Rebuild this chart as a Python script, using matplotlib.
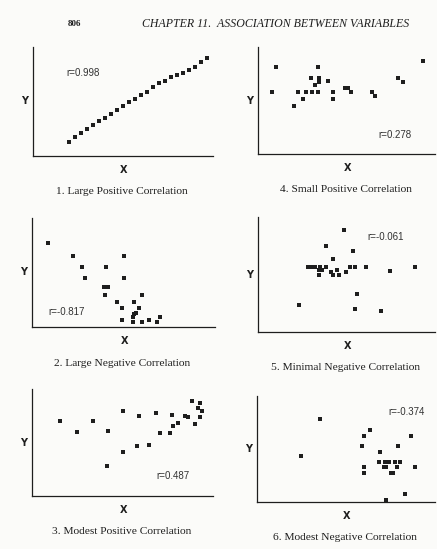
import matplotlib.pyplot as plt

W, H = 437, 549

# values (units: px from the axes corner)
x1 = [35.7, 42, 48, 54.3, 60.3, 66.3, 72.3, 78.3, 84.3, 90.3, 96.3, 102.3,
      108.3, 114.3, 120.3, 126.3, 132.3, 138.3, 144.3, 150.3, 156.3, 162.3, 168.3, 174.3]
y1 = [13.7, 19.3, 23.3, 26.7, 30.7, 35.3, 38.3, 41.7, 46, 50, 54.3, 56.7,
      60.7, 64.3, 68.7, 72.7, 75.3, 78.7, 81, 83.3, 86, 89.3, 93.7, 97.7]

x2 = [16, 40.7, 50, 53, 74.4, 92.4, 92.4, 72.4, 76, 73, 84.7, 90.4,
      89.7, 101.7, 110, 106.7, 104.4, 101.7, 101, 101, 110.4, 116.7, 125.4, 127.7]
y2 = [83.7, 71.3, 60, 49.3, 60, 71, 49.3, 40, 40, 32, 25, 18.7,
      7.3, 25, 32, 18.7, 13.7, 13.3, 10, 5.3, 5.3, 7.3, 5.3, 9.7]

x3 = [28.3, 44.7, 61, 76, 74.7, 91, 91, 105.3, 107, 117.3, 123.7, 128.3,
      138.3, 140.3, 140.7, 146, 153.3, 155.7, 159.7, 163.3, 165.7, 168.3, 168, 169.7]
y3 = [75, 64, 74.7, 65, 30, 85, 44, 49.7, 80, 51.4, 82.7, 62.7,
      62.7, 81.4, 70, 73, 80.4, 79.4, 95, 72.4, 88, 93.4, 79, 84.7]

x4 = [18.3, 14, 36.3, 40.3, 45.3, 48, 53, 54.3, 56.7, 60, 60.3, 60.7,
      60.7, 70.3, 75, 75, 86.7, 90, 93.3, 113.7, 117, 140.3, 145, 165]
y4 = [87.3, 62.3, 48, 62.3, 55, 62.3, 76.3, 62.3, 69, 62.3, 87, 76.3,
      72.3, 72.7, 62, 54.7, 65.7, 65.7, 61.7, 62, 58, 75.7, 72.3, 93]

x5 = [86, 68.3, 95, 74.7, 50, 54.3, 56.7, 61.7, 68.3, 61.3, 64.3, 72.7, 79.3,
      61.3, 74.7, 81.3, 88, 92.3, 97, 108, 132.3, 157, 99, 41.3, 96.7, 123]
y5 = [101.7, 86.3, 81, 73.3, 65, 65, 65, 65, 65, 61.7, 61.7, 60, 61.7,
      57, 57, 57, 60, 65, 65, 65, 61, 64.7, 38, 27.3, 23.3, 21.3]

x6 = [62.7, 44.3, 112.7, 107.3, 105.3, 154, 141.3, 123.3, 121.7, 127.7, 132.3, 137.7,
      143, 126.7, 129.3, 140, 158, 107.3, 107.3, 133.7, 136, 147.7, 129.3]
y6 = [83, 46, 72, 66.3, 56, 66.3, 55.7, 50.3, 39.7, 39.7, 39.7, 39.7,
      39.7, 34.7, 34.7, 34.7, 34.7, 34.7, 29.3, 29.3, 29.3, 8, 2.3]

titles = ['1. Large Positive Correlation', '2. Large Negative Correlation',
          '3. Modest Positive Correlation', '4. Small Positive Correlation',
          '5. Minimal Negative Correlation', '6. Modest Negative Correlation']
r_text = ['r=0.998', 'r=-0.817', 'r=0.487', 'r=0.278', 'r=-0.061', 'r=-0.374']
xs = [x1, x2, x3, x4, x5, x6]
ys = [y1, y2, y3, y4, y5, y6]

# layout in pixels: axes box (left, top, right, bottom), r label (x, y)
boxes = [(33, 47, 213, 156), (32, 218, 215, 327), (32, 389, 213, 496),
         (258, 47, 435, 154), (258, 217, 435, 332), (257, 396, 435, 502)]
r_pos = [(66, 73), (48, 312), (156, 476), (378, 135), (367, 237), (388, 412)]

fig = plt.figure(figsize=(W / 100, H / 100), dpi=100)
fig.patch.set_facecolor('#fbfbf9')

ink = '#1e1e1e'
for i in range(6):
    l, t, r, b = boxes[i]
    ax = fig.add_axes([l / W, 1 - b / H, (r - l) / W, (b - t) / H])
    ax.set_facecolor('none')
    ax.plot(xs[i], ys[i], 's', color=ink, markersize=2.3, markeredgewidth=0)
    ax.set_xlim(0, r - l)
    ax.set_ylim(0, b - t)
    for s in ['top', 'right']:
        ax.spines[s].set_visible(False)
    for s in ['left', 'bottom']:
        ax.spines[s].set_color(ink)
        ax.spines[s].set_linewidth(0.9)
    ax.set_xticks([])
    ax.set_yticks([])
    cx = (l + r) / 2
    fig.text((l - 8) / W, 1 - (t + b) / 2 / H, 'Y', ha='center', va='center',
             fontsize=7, color=ink, family='DejaVu Sans', weight='bold')
    fig.text((cx + 1) / W, 1 - (b + 14) / H, 'X', ha='center', va='center',
             fontsize=7, color=ink, family='DejaVu Sans', weight='bold')
    fig.text((cx - 1) / W, 1 - (b + 36) / H, titles[i], ha='center', va='center',
             fontsize=8.2, color=ink, family='Liberation Serif')
    fig.text(r_pos[i][0] / W, 1 - r_pos[i][1] / H, r_text[i], ha='left', va='center',
             fontsize=7, color='#333333', family='Liberation Sans')

fig.text(68 / W, 1 - 24 / H, '806', ha='left', va='center', fontsize=6.5,
         color=ink, family='Liberation Serif', weight='bold')
fig.text(142 / W, 1 - 24 / H, 'CHAPTER 11.  ASSOCIATION BETWEEN VARIABLES',
         ha='left', va='center', fontsize=8.6, color=ink,
         family='Liberation Serif', style='italic')

fig.savefig('out.png', dpi=100, facecolor=fig.get_facecolor())
